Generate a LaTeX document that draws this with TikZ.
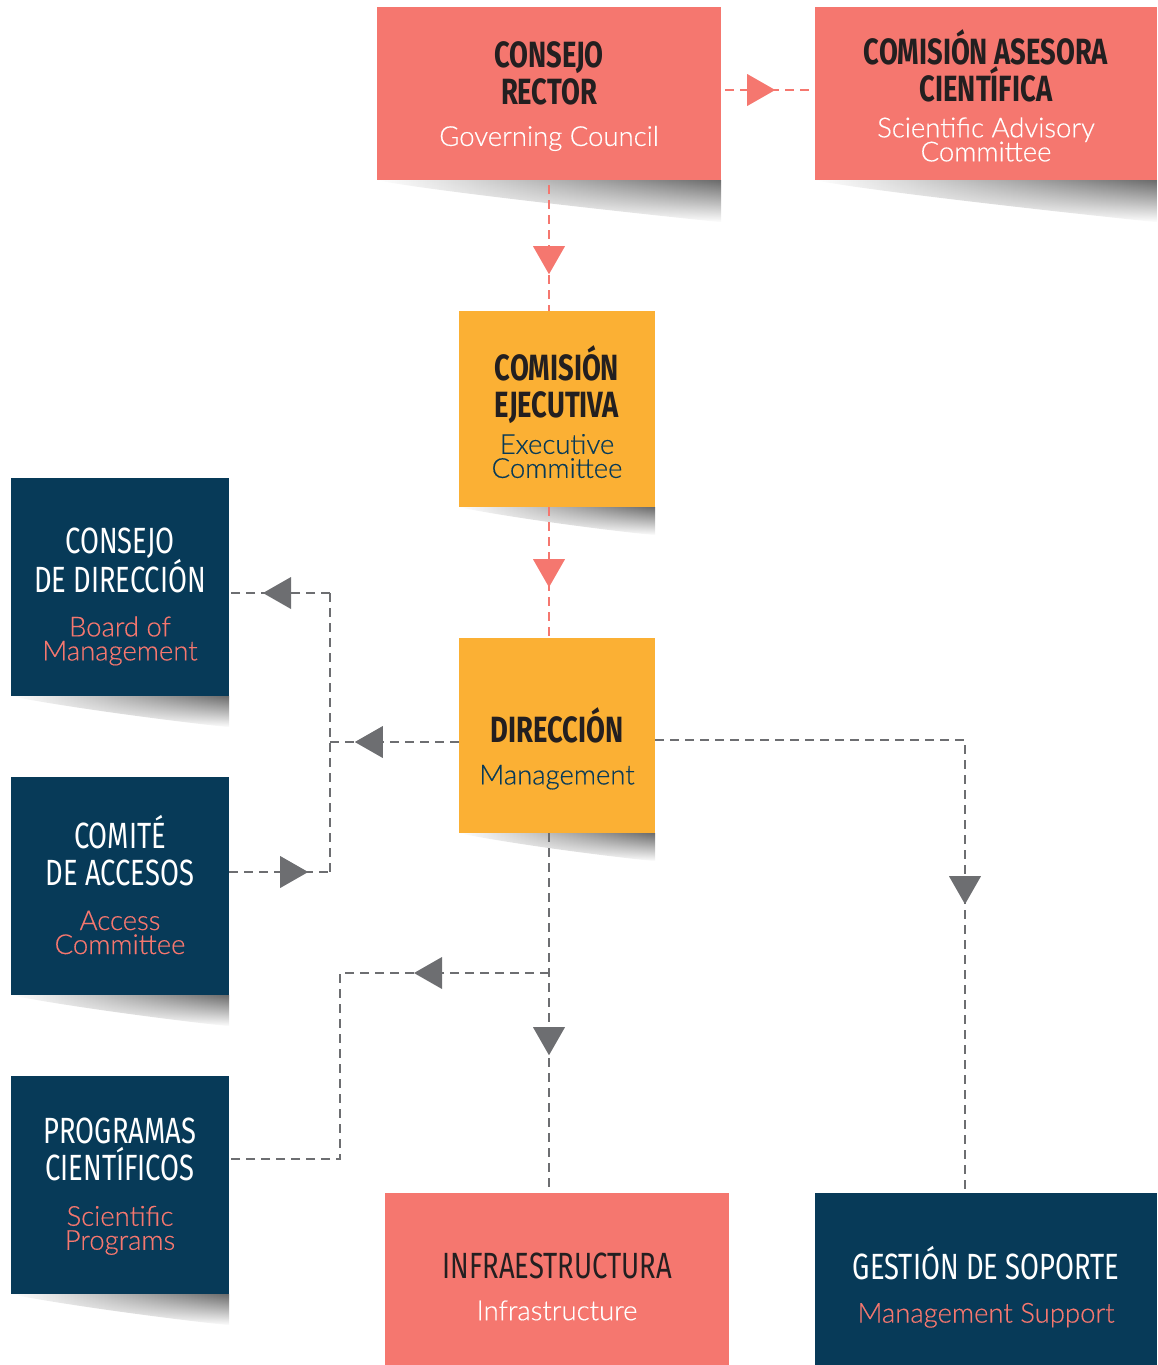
\documentclass[tikz,border=0pt]{standalone}
\usepackage{fontspec}
\setmainfont{Lato}
\newfontfamily\hdfam[FakeStretch=0.75]{Fira Sans}
\newfontfamily\sbfam[UprightFeatures={FakeBold=0.4}]{Lato Light}
\usetikzlibrary{decorations.markings,backgrounds,calc,fadings}
\definecolor{salmon}{HTML}{F5776F}
\definecolor{gold}{HTML}{FBB034}
\definecolor{navy}{HTML}{073A58}
\definecolor{ink}{HTML}{231F20}
\definecolor{lgray}{HTML}{6D6E71}
\tikzfading[name=shdown, top color=transparent!0, bottom color=transparent!100]
\newcommand\hdb{\hdfam\bfseries\fontsize{36.5}{37}\selectfont}
\newcommand\hdr{\hdfam\fontsize{36.5}{37}\selectfont}
\newcommand\sbt{\sbfam\fontsize{27.5}{37}\selectfont}
\tikzset{
  box/.style={rectangle, inner sep=0pt},
  redbox/.style={box, fill=salmon},
  yelbox/.style={box, fill=gold},
  navbox/.style={box, fill=navy},
  txt/.style={inner sep=0pt, align=center, font=\fontsize{36}{37}\selectfont},
  conn/.style={line width=2.2pt, dash pattern=on 9pt off 6pt},
  redconn/.style={conn, color=salmon},
  grayconn/.style={conn, color=lgray},
  tri/.style={postaction={decorate, decoration={markings,
     mark=at position #1 with {\fill[solid] (-14,-16) -- (14,0) -- (-14,16) -- cycle;}}}},
}
\newcommand\shadowof[2]{%
  \shade[left color=white, right color=black!58, path fading=shdown]
    ($(#1.south west)$) -- ($(#1.south east)$) -- ($(#1.south east)+(0,#2)$)
    .. controls ($(#1.south east)+(-40,#2-4)$) and ($(#1.south west)+(60,12)$) .. ($(#1.south west)$) -- cycle;}
\begin{document}
\begin{tikzpicture}[x=1pt,y=-1pt]
\useasboundingbox (0,0) rectangle (1157,1365);
% boxes
\node[redbox, minimum width=344pt, minimum height=173pt] (rector) at (549,93.5) {};
\node[redbox, minimum width=342pt, minimum height=173pt] (asesora) at (986,93.5) {};
\node[yelbox, minimum width=196pt, minimum height=196pt] (ejec) at (557,409) {};
\node[yelbox, minimum width=196pt, minimum height=195pt] (direc) at (557,735.5) {};
\node[navbox, minimum width=218pt, minimum height=218pt] (cdir) at (120,587) {};
\node[navbox, minimum width=218pt, minimum height=218pt] (acc) at (120,886) {};
\node[navbox, minimum width=218pt, minimum height=218pt] (prog) at (120,1185) {};
\node[redbox, minimum width=344pt, minimum height=172pt] (infra) at (557,1279) {};
\node[navbox, minimum width=342pt, minimum height=172pt] (gest) at (986,1279) {};
% texts
\node[txt, text=ink] (rector-t) at ($(rector.center)+(0,3)$)
  {\hdb CONSEJO\\\hdb RECTOR\\[4pt]\color{white}\sbt Governing Council};
\node[txt, text=ink] (asesora-t) at ($(asesora.center)+(0,2)$)
  {\hdb COMISIÓN ASESORA\\\hdb CIENTÍFICA\\[-1pt]\color{white}\sbt Scientific Advisory\\[-13pt]\color{white}\sbt Committee};
\node[txt, text=ink] (ejec-t) at ($(ejec.center)+(0,3)$)
  {\hdb COMISIÓN\\\hdb EJECUTIVA\\[-1pt]\color{navy}\sbt Executive\\[-13pt]\color{navy}\sbt Committee};
\node[txt, text=ink] (direc-t) at ($(direc.center)+(0,13)$)
  {\hdb DIRECCIÓN\\[5pt]\color{navy}\sbt Management};
\node[txt, text=white] (cdir-t) at ($(cdir.center)+(0,9.5)$)
  {\hdr CONSEJO\\\hdr DE DIRECCIÓN\\[7pt]\color{salmon}\sbt Board of\\[-13pt]\color{salmon}\sbt Management};
\node[txt, text=white] (acc-t) at ($(acc.center)+(0,-1.5)$)
  {\hdr COMITÉ\\\hdr DE ACCESOS\\[8pt]\color{salmon}\sbt Access\\[-13pt]\color{salmon}\sbt Committee};
\node[txt, text=white] (prog-t) at ($(prog.center)+(0,1.5)$)
  {\hdr PROGRAMAS\\\hdr CIENTÍFICOS\\[8pt]\color{salmon}\sbt Scientific\\[-13pt]\color{salmon}\sbt Programs};
\node[txt, text=ink] (infra-t) at ($(infra.center)+(0,7.5)$)
  {\hdr INFRAESTRUCTURA\\[5pt]\color{white}\sbt Infrastructure};
\node[txt, text=white] (gest-t) at ($(gest.center)+(0,8)$)
  {\hdr GESTIÓN DE SOPORTE\\[6pt]\color{salmon}\sbt Management Support};
% junction points
\coordinate (jL) at (330,742);
\coordinate (jLtop) at (330,593);
\coordinate (jLbot) at (330,872);
\coordinate (jD) at (direc.south -| rector.south);
\coordinate (jB) at (549,973);
\coordinate (jBL) at (340,973);
\coordinate (jBD) at (340,1159);
\coordinate (jR) at (965,740);
% connectors
\draw[redconn, tri=36pt] ($(rector.east)+(4,-3.5)$) -- ($(asesora.west)+(-3,-3.5)$);
\draw[redconn, tri=75pt] ($(rector.south)+(0,5)$) -- (rector.south |- ejec.north);
\draw[redconn, tri=66pt] (ejec.south -| rector.south) -- (direc.north -| rector.south);
\draw[grayconn, tri=90pt] ([yshift=-6.5pt]direc.west) -- (jL);
\draw[grayconn] (jLtop) -- (jLbot);
\draw[grayconn, tri=53pt] (jLtop) -- ([yshift=-6pt]cdir.east);
\draw[grayconn, tri=65pt] ([yshift=14pt]acc.east) -- (jLbot);
\draw[grayconn, tri=208pt] (jD) -- (infra.north -| rector.south);
\draw[grayconn, tri=121pt] (jB) -- (jBL) -- (jBD) -- ([yshift=26pt]prog.east);
\draw[grayconn, tri=460pt] ([yshift=-4.5pt]direc.east) -- (jR) -- (gest.north -| jR);
% shadows
\begin{scope}[on background layer]
\shadowof{rector}{42}
\shadowof{asesora}{42}
\shadowof{ejec}{28}
\shadowof{direc}{28}
\shadowof{cdir}{31}
\shadowof{acc}{31}
\shadowof{prog}{31}
\end{scope}
\end{tikzpicture}
\end{document}
